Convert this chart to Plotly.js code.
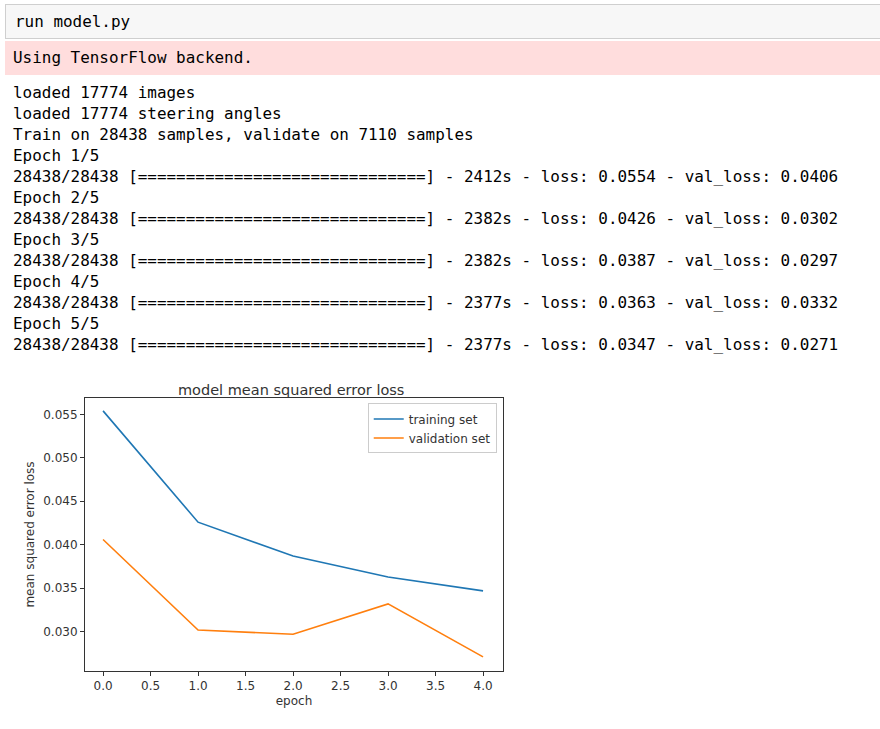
<!DOCTYPE html>
<html>
<head>
<meta charset="utf-8">
<script src="https://cdn.plot.ly/plotly-3.0.1.min.js"></script>
<style>
  body { margin: 0; background: #fff; width: 880px; height: 729px; position: relative; overflow: hidden; }
  .mono { font-family: "DejaVu Sans Mono", monospace; font-size: 15.95px; color: #000; white-space: pre; }
  #cell { position: absolute; left: 5px; top: 4px; width: 880px; height: 35px; background: #f7f7f7; border: 1px solid #cfcfcf; box-sizing: border-box; }
  #cell span { position: absolute; left: 9px; top: 7px; }
  #stderr { position: absolute; left: 5px; top: 41px; width: 880px; height: 34px; background: #fdd; }
  #stderr span { position: absolute; left: 8px; top: 7px; }
  #out { position: absolute; left: 13px; top: 82px; line-height: 21px; }
  #chart { position: absolute; left: 0; top: 370px; width: 520px; height: 350px; }
</style>
</head>
<body>
<div id="cell"><span class="mono">run model.py</span></div>
<div id="stderr"><span class="mono">Using TensorFlow backend.</span></div>
<div id="out" class="mono"></div>
<div id="chart"></div>
<script>
  var epochs = [0, 1, 2, 3, 4];
  var trainLoss = [0.0554, 0.0426, 0.0387, 0.0363, 0.0347];
  var valLoss = [0.0406, 0.0302, 0.0297, 0.0332, 0.0271];
  var epochTimes = ['2412s', '2382s', '2382s', '2377s', '2377s'];

  var lines = ['loaded 17774 images', 'loaded 17774 steering angles',
    'Train on 28438 samples, validate on 7110 samples'];
  epochs.forEach(function (e, i) {
    lines.push('Epoch ' + (i + 1) + '/5');
    lines.push('28438/28438 [==============================] - ' + epochTimes[i] +
      ' - loss: ' + trainLoss[i].toFixed(4) + ' - val_loss: ' + valLoss[i].toFixed(4));
  });
  document.getElementById('out').textContent = lines.join('\n');

  var axisStyle = {
    showgrid: false, zeroline: false, showline: true, mirror: true,
    linecolor: '#333', linewidth: 1, ticks: 'outside', ticklen: 4,
    tickcolor: '#333', tickfont: { size: 12, color: '#333' }
  };

  var traces = [
    { x: epochs, y: trainLoss, mode: 'lines', name: 'training set', line: { color: '#1f77b4', width: 1.6 } },
    { x: epochs, y: valLoss, mode: 'lines', name: 'validation set', line: { color: '#ff7f0e', width: 1.6 } }
  ];

  var layout = {
    width: 520, height: 350,
    margin: { l: 85, r: 17, t: 28, b: 49 },
    font: { family: '"DejaVu Sans", sans-serif', color: '#333' },
    paper_bgcolor: '#fff', plot_bgcolor: '#fff',
    title: { text: 'model mean squared error loss', font: { size: 14.5, color: '#333' }, x: 0.56, y: 0.958, xanchor: 'center' },
    xaxis: Object.assign({}, axisStyle, {
      range: [-0.19, 4.21], tickvals: [0, 0.5, 1, 1.5, 2, 2.5, 3, 3.5, 4],
      ticktext: ['0.0', '0.5', '1.0', '1.5', '2.0', '2.5', '3.0', '3.5', '4.0'],
      title: { text: 'epoch', font: { size: 12, color: '#333' }, standoff: 4 }
    }),
    yaxis: Object.assign({}, axisStyle, {
      range: [0.02548, 0.05688], tickvals: [0.03, 0.035, 0.04, 0.045, 0.05, 0.055],
      tickformat: '.3f',
      title: { text: 'mean squared error loss', font: { size: 12, color: '#333' }, standoff: 6 }
    }),
    legend: {
      x: 0.985, y: 0.98, xanchor: 'right', yanchor: 'top',
      bgcolor: '#fff', bordercolor: '#ccc', borderwidth: 1,
      font: { size: 12, color: '#333' }
    },
    showlegend: true
  };

  Plotly.newPlot('chart', traces, layout, { displayModeBar: false, staticPlot: true });
</script>
</body>
</html>
